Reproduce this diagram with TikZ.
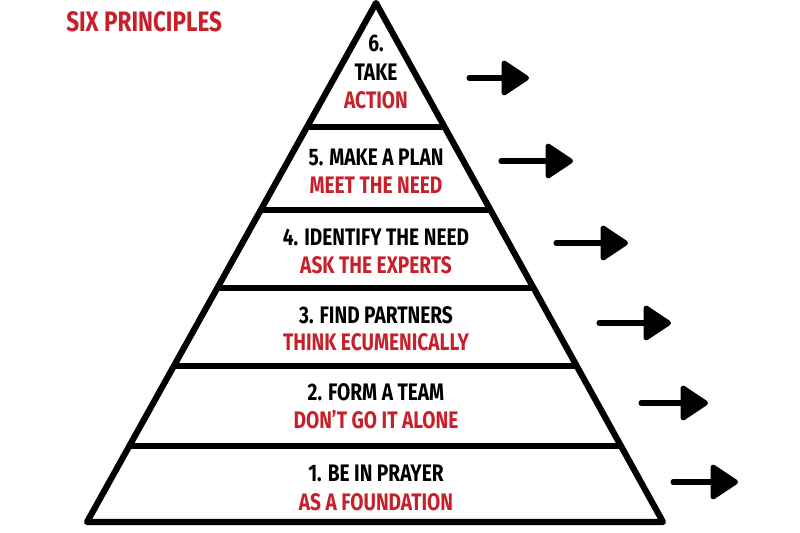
\documentclass[tikz,border=0pt]{standalone}
\usepackage{fontspec}
\setmainfont{Fira Sans}[FakeStretch=0.8]
\usepackage{xcolor}
\usetikzlibrary{arrows.meta,calc}
\definecolor{brushred}{HTML}{C8202A}
\tikzset{
  rowtext/.style={font=\bfseries\fontsize{17}{19}\selectfont, text=black, inner sep=0pt},
  redtext/.style={rowtext, text=brushred},
  pointer/.style={line width=3.6pt, line cap=round, -{Triangle[length=0.74cm,width=0.95cm,round]}},
}
\begin{document}
\begin{tikzpicture}[x=0.025cm,y=-0.025cm, line join=round]
\useasboundingbox (0,0) rectangle (800,532);
% pyramid
\coordinate (apex) at (376,3);
\coordinate (bl) at (87,522);
\coordinate (br) at (663,522);
\draw[line width=4.4pt] (apex) -- (bl) -- (br) -- cycle;
\foreach \y in {127,210,288,366,446}
  \draw[line width=4.4pt] ($(apex)!{(\y-3)/519}!(bl)$) -- ($(apex)!{(\y-3)/519}!(br)$);
% title
\node[redtext, anchor=west, font=\bfseries\fontsize{20}{22}\selectfont] (title) at (66,22) {SIX PRINCIPLES};
% rows
\node[rowtext] (r6a) at (376,43) {6.};
\node[rowtext] (r6b) at (376,72) {TAKE};
\node[redtext] (r6c) at (376,100) {ACTION};
\node[rowtext] (r5a) at (376,157) {5. MAKE A PLAN};
\node[redtext] (r5b) at (376,185) {MEET THE NEED};
\node[rowtext] (r4a) at (376,237) {4. IDENTIFY THE NEED};
\node[redtext] (r4b) at (376,265) {ASK THE EXPERTS};
\node[rowtext] (r3a) at (376,315) {3. FIND PARTNERS};
\node[redtext] (r3b) at (376,342) {THINK ECUMENICALLY};
\node[rowtext] (r2a) at (376,392) {2. FORM A TEAM};
\node[redtext] (r2b) at (376,420) {DON'T GO IT ALONE};
\node[rowtext] (r1a) at (376,473) {1. BE IN PRAYER};
\node[redtext] (r1b) at (376,502) {AS A FOUNDATION};
% arrows
\coordinate (s6) at (469,78);  \coordinate (e6) at (529,78);
\coordinate (s5) at (501,161); \coordinate (e5) at (573,161);
\coordinate (s4) at (556,243); \coordinate (e4) at (628,243);
\coordinate (s3) at (599,323); \coordinate (e3) at (671,323);
\coordinate (s2) at (641,403); \coordinate (e2) at (708,403);
\coordinate (s1) at (673,482); \coordinate (e1) at (738,482);
\foreach \i in {1,...,6}
  \draw[pointer] (s\i) -- (e\i);
\end{tikzpicture}
\end{document}
